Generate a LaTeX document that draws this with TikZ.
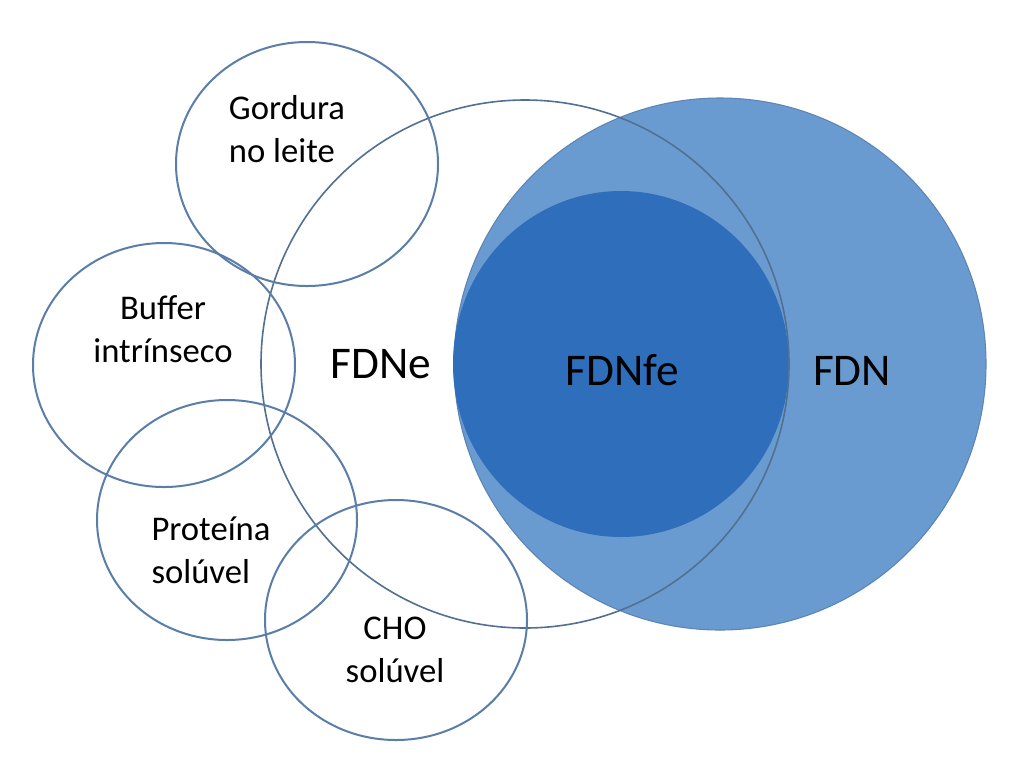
\documentclass[tikz,border=0pt]{standalone}
\usepackage{fontspec}
\setmainfont{Carlito}
\definecolor{ringblue}{HTML}{5A7EA8}
\definecolor{fdnfill}{HTML}{6A9BD0}
\definecolor{fdnline}{HTML}{5C85B5}
\definecolor{fdnfefill}{HTML}{2F6EBA}
\definecolor{fdneline}{HTML}{52708F}

\begin{document}
\begin{tikzpicture}[x=0.75pt,y=-0.75pt,
    ring/.style={draw=ringblue,line width=1.5pt},
    lbl/.style={inner sep=0pt,font=\fontsize{26}{32}\selectfont},
    big/.style={inner sep=0pt,anchor=base,font=\fontsize{34}{40}\selectfont}]
  \fill[white] (0,0) rectangle (1024,769);
  \useasboundingbox (0,0) rectangle (1024,769);

  % fibre sets
  \draw[fill=fdnfill,draw=fdnline,line width=0.8pt] (720,364) circle (266);
  \fill[fdnfefill] (621,364) ellipse [x radius=168, y radius=173];
  \draw[draw=fdneline,line width=1.2pt] (525,364) circle (264);

  % small factors
  \draw[ring] (307,164) ellipse [x radius=131, y radius=122];
  \draw[ring] (164,365) ellipse [x radius=131, y radius=122];
  \draw[ring] (227,520) ellipse [x radius=130, y radius=120];
  \draw[ring] (396,620) ellipse [x radius=131, y radius=120];

  \node[lbl,align=left] (gordura) at (287,129) {Gordura\\no leite};
  \node[lbl,align=center] (buffer) at (163,329) {Buffer\\intrínseco};
  \node[lbl,align=left] (proteina) at (211,550) {Proteína\\solúvel};
  \node[lbl,align=center] (cho) at (395,650) {CHO\\solúvel};

  \node[big] (fdne) at (381,378) {FDNe};
  \node[big] (fdnfe) at (622,385) {FDNfe};
  \node[big] (fdn) at (852,385) {FDN};
\end{tikzpicture}
\end{document}
